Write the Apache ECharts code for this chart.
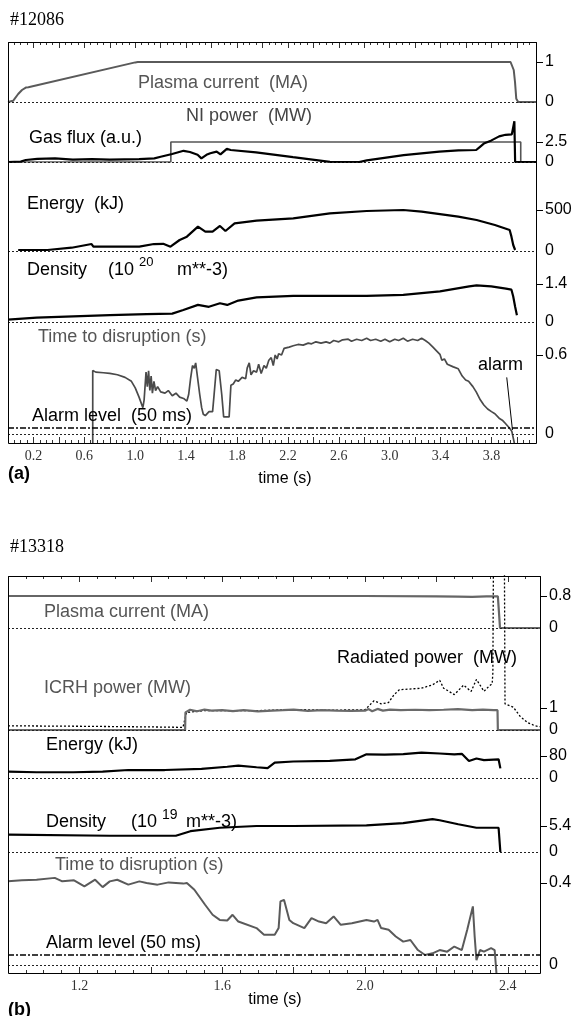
<!DOCTYPE html>
<html lang="en">
<head>
<meta charset="UTF-8">
<title>Disruption prediction</title>
<style>
  html, body { margin: 0; padding: 0; background: #fff; }
  #main { width: 572px; height: 1016px; }
</style>
</head>
<body>
<div id="main"></div>
<script src="https://cdn.jsdelivr.net/npm/echarts@6.0.0/dist/echarts.min.js"></script>
<script>
// ---------- shot #12086 (a) : [time s, value] ----------
var aPlasma = [[0,0],[0.04,0.03],[0.08,0.2],[0.11,0.3],[0.14,0.36],[0.16,0.37],[1.0,0.99],[1.02,1.0],
  [3.95,1.0],[3.965,0.97],[3.975,0.8],[3.985,0.5],[3.995,0.08],[4.01,0],[4.15,0]];
var aNI = [[0,0],[1.28,0],[1.28,2.5],[4.03,2.5],[4.03,0],[4.15,0]];
var aGas = [[0,0],[0.1,0.05],[0.14,0.25],[0.23,0.4],[0.37,0.45],[0.51,0.3],[0.66,0.35],[0.8,0.3],[1.03,0.35],
  [1.15,0.45],[1.2,0.65],[1.29,1.0],[1.38,1.4],[1.43,1.25],[1.49,0.9],[1.52,0.45],[1.56,0.9],[1.59,1.1],
  [1.64,1.3],[1.67,0.95],[1.72,1.65],[1.75,1.5],[1.95,1.2],[2.24,0.6],[2.53,0.02],[2.76,0],[2.82,0.2],
  [3.11,0.85],[3.39,1.3],[3.54,1.45],[3.68,1.5],[3.71,1.9],[3.74,2.3],[3.8,2.7],[3.86,3.2],[3.91,3.4],
  [3.96,3.45],[3.97,3.7],[3.98,5.1],[3.986,0],[4.15,0]];
var aEnergy = [[0.08,12],[0.31,12],[0.5,40],[0.657,85],[0.671,53],[1.032,53],[1.147,85],[1.22,88],[1.277,53],
  [1.349,134],[1.406,175],[1.493,297],[1.551,236],[1.608,236],[1.666,305],[1.709,244],[1.781,337],[1.954,370],
  [2.242,398],[2.53,459],[2.819,488],[3.107,500],[3.251,480],[3.539,419],[3.683,378],[3.827,317],[3.943,256],
  [3.957,175],[3.971,73],[3.986,12]];
var aDensity = [[0,0.09],[0.225,0.16],[0.513,0.21],[0.801,0.25],[1.089,0.29],[1.291,0.31],[1.378,0.44],
  [1.493,0.63],[1.579,0.56],[1.666,0.69],[1.723,0.63],[1.81,0.79],[1.954,0.91],[2.242,0.96],[2.819,0.96],
  [3.107,1.0],[3.395,1.13],[3.625,1.31],[3.683,1.35],[3.798,1.31],[3.914,1.23],[3.957,1.19],[3.971,0.94],
  [3.986,0.56],[4.0,0.25]];
var aTtd = [[0.666,-0.07],[0.666,0.483],[0.69,0.47],[0.75,0.465],[0.8,0.46],[0.86,0.45],[0.92,0.43],[0.97,0.4],
  [1.0,0.35],[1.03,0.28],[1.06,0.2],[1.07,0.26],[1.085,0.47],[1.095,0.36],[1.105,0.48],[1.115,0.33],
  [1.125,0.44],[1.135,0.31],[1.147,0.4],[1.16,0.33],[1.176,0.36],[1.2,0.32],[1.234,0.31],[1.26,0.33],
  [1.291,0.29],[1.32,0.31],[1.349,0.28],[1.38,0.27],[1.406,0.25],[1.42,0.3],[1.435,0.42],[1.45,0.52],
  [1.464,0.5],[1.475,0.54],[1.49,0.55],[1.507,0.3],[1.522,0.2],[1.535,0.15],[1.551,0.14],[1.58,0.17],
  [1.608,0.17],[1.62,0.3],[1.637,0.49],[1.66,0.48],[1.68,0.3],[1.695,0.13],[1.72,0.13],[1.738,0.13],
  [1.752,0.37],[1.77,0.38],[1.79,0.41],[1.81,0.4],[1.84,0.43],[1.868,0.42],[1.88,0.5],[1.896,0.54],
  [1.91,0.45],[1.93,0.48],[1.954,0.47],[1.97,0.53],[1.99,0.46],[2.012,0.52],[2.03,0.5],[2.05,0.56],
  [2.069,0.58],[2.085,0.52],[2.1,0.6],[2.115,0.57],[2.127,0.61],[2.15,0.6],[2.17,0.65],[2.185,0.64],
  [2.21,0.66],[2.242,0.67],[2.28,0.68],[2.32,0.675],[2.36,0.69],[2.386,0.685],[2.42,0.7],[2.46,0.69],
  [2.5,0.7],[2.53,0.69],[2.56,0.71],[2.6,0.7],[2.63,0.715],[2.674,0.72],[2.7,0.705],[2.74,0.72],[2.78,0.71],
  [2.819,0.727],[2.85,0.71],[2.89,0.72],[2.93,0.705],[2.963,0.72],[3.0,0.7],[3.04,0.72],[3.07,0.71],
  [3.107,0.727],[3.14,0.705],[3.18,0.72],[3.22,0.71],[3.251,0.727],[3.28,0.71],[3.308,0.69],[3.34,0.66],
  [3.37,0.63],[3.395,0.605],[3.41,0.56],[3.43,0.57],[3.453,0.53],[3.5,0.51],[3.539,0.495],[3.57,0.44],
  [3.597,0.41],[3.62,0.4],[3.654,0.36],[3.68,0.32],[3.712,0.26],[3.74,0.22],[3.77,0.19],[3.8,0.17],
  [3.827,0.154],[3.86,0.12],[3.885,0.105],[3.91,0.08],[3.943,0.044],[3.96,0.02],[3.971,0.007],[3.98,-0.07]];
var aAlarmPointer = [[3.92,0.43],[3.965,0.03]];
var aXLabels = [0.2, 0.6, 1.0, 1.4, 1.8, 2.2, 2.6, 3.0, 3.4, 3.8];
var aYTicks = [1, 2.5, 500, 1.4, 0.6];

// ---------- shot #13318 (b) ----------
var bPlasma = [[1.0,0.8],[1.6,0.8],[2.0,0.8],[2.2,0.79],[2.26,0.785],[2.3,0.78],[2.34,0.79],[2.372,0.79],
  [2.375,0.4],[2.378,0],[2.49,0]];
var bICRH = [[1.0,0],[1.496,0],[1.497,0.8],[1.51,0.92],[1.53,0.85],[1.55,0.93],[1.57,0.88],[1.6,0.9],
  [1.63,0.86],[1.66,0.9],[1.7,0.85],[1.74,0.88],[1.77,0.9],[1.8,0.93],[1.84,0.87],[1.88,0.9],[1.92,0.88],
  [1.96,0.87],[2.0,0.88],[2.01,0.95],[2.02,0.85],[2.035,0.96],[2.05,0.88],[2.07,0.93],[2.1,0.9],[2.14,0.92],
  [2.18,0.9],[2.22,0.92],[2.26,0.95],[2.3,0.9],[2.33,0.93],[2.36,0.9],[2.371,0.9],[2.372,0],[2.49,0]];
var bRadiated = [[1.0,0.19],[1.2,0.17],[1.4,0.14],[1.49,0.12],[1.5,0.8],[1.55,0.88],[1.7,0.88],[1.8,0.93],
  [1.9,0.9],[2.0,0.92],[2.025,1.33],[2.045,1.19],[2.066,1.25],[2.081,1.6],[2.096,1.83],[2.158,1.9],
  [2.189,2.05],[2.209,2.26],[2.22,1.9],[2.25,1.61],[2.276,2.04],[2.297,1.75],[2.312,2.3],[2.333,1.76],
  [2.348,2.0],[2.356,2.1],[2.358,2.6],[2.36,9],[2.39,9],[2.392,1.19],[2.415,1.04],[2.435,0.61],
  [2.456,0.33],[2.476,0.19],[2.49,0.15]];
var bEnergy = [[1.0,23],[1.08,21],[1.183,21],[1.265,23],[1.337,29],[1.439,29],[1.542,33],[1.614,41],
  [1.645,45],[1.696,39],[1.727,36],[1.747,56],[1.799,60],[1.901,62],[1.973,68],[2.004,86],[2.055,85],
  [2.107,87],[2.158,92],[2.209,89],[2.25,86],[2.271,88],[2.291,62],[2.312,71],[2.333,65],[2.374,68],[2.379,35]];
var bDensity = [[1.0,3.6],[1.285,3.38],[1.47,3.38],[1.511,4.32],[1.593,5.04],[1.696,5.4],[1.799,5.4],
  [2.004,5.54],[2.107,5.98],[2.189,6.84],[2.209,6.6],[2.261,5.76],[2.312,5.04],[2.374,5.04],[2.379,0]];
var bTtd = [[1.0,0.408],[1.039,0.413],[1.08,0.416],[1.131,0.425],[1.152,0.408],[1.185,0.413],[1.214,0.384],
  [1.244,0.416],[1.265,0.38],[1.285,0.408],[1.306,0.416],[1.337,0.392],[1.368,0.408],[1.388,0.4],
  [1.419,0.392],[1.45,0.403],[1.491,0.397],[1.501,0.4],[1.522,0.367],[1.552,0.294],[1.573,0.245],
  [1.593,0.22],[1.614,0.217],[1.629,0.245],[1.645,0.212],[1.696,0.18],[1.717,0.147],[1.747,0.147],
  [1.758,0.18],[1.763,0.31],[1.773,0.318],[1.788,0.22],[1.799,0.204],[1.83,0.18],[1.85,0.229],
  [1.871,0.212],[1.891,0.204],[1.912,0.237],[1.932,0.196],[1.963,0.204],[2.004,0.22],[2.025,0.212],
  [2.035,0.22],[2.045,0.18],[2.066,0.172],[2.086,0.139],[2.107,0.114],[2.127,0.122],[2.148,0.073],
  [2.168,0.049],[2.189,0.057],[2.209,0.073],[2.23,0.065],[2.25,0.09],[2.271,0.073],[2.286,0.171],
  [2.302,0.286],[2.307,0.139],[2.312,0.024],[2.322,0.073],[2.333,0.065],[2.353,0.082],[2.363,0.073],
  [2.368,-0.04]];
var bXLabels = [1.2, 1.6, 2.0, 2.4];
var bYTicks = [0.8, 1, 80, 5.4, 0.4];

var ALARM = 0.05;

var SANS = '"Liberation Sans", Arial, sans-serif';
var SERIF = '"Liberation Serif", "Times New Roman", serif';
var GRAY = '#5a5a5a';
var W = 572;

var grids = [], xAxes = [], yAxes = [], series = [], graphics = [];

function zeroLine() {
    return {yAxis: 0, lineStyle: {color: '#222', width: 1, type: [2, 2]}};
}

function addPanel(p) {
    p.bands.forEach(function (b, i) {
        var k = (b.zeroY - b.tickY) / b.tick;   // px per unit
        var gi = grids.length;
        var isTop = i === 0, isBottom = i === p.bands.length - 1;
        grids.push({left: p.left, right: W - p.right, top: b.top, height: b.bottom - b.top,
            containLabel: false, outerBoundsMode: 'none'});
        xAxes.push({
            gridIndex: gi, type: 'value', min: p.xMin, max: p.xMax, interval: 0.2,
            show: isTop || isBottom, position: isTop ? 'top' : 'bottom',
            axisLine: {show: false, onZero: false},
            axisTick: {show: true, inside: true, length: 6, lineStyle: {color: '#333'}},
            minorTick: {show: true, splitNumber: 4, length: 3, lineStyle: {color: '#333'}},
            splitLine: {show: false},
            axisLabel: {
                show: isBottom, color: '#333', fontFamily: SERIF, fontSize: 14, margin: 6,
                formatter: function (v) {
                    for (var j = 0; j < p.xLabels.length; j++) {
                        if (Math.abs(v - p.xLabels[j]) < 1e-6) return p.xLabels[j].toFixed(1);
                    }
                    return '';
                }
            }
        });
        yAxes.push({
            gridIndex: gi, type: 'value', position: 'right',
            min: -(b.bottom - b.zeroY) / k, max: (b.zeroY - b.top) / k,
            axisLine: {show: false, onZero: false}, splitLine: {show: false},
            axisTick: {show: true, inside: false, length: 7, customValues: [b.tick], lineStyle: {color: '#000'}},
            axisLabel: {customValues: [0, b.tick], color: '#000', fontFamily: SANS, fontSize: 16, margin: 9,
                formatter: function (v) { return v === 0 ? '0' : String(b.tick); }}
        });
        b.series.forEach(function (s, j) {
            var marks = j === 0 ? [zeroLine()].concat(b.marks || []) : [];
            series.push({
                type: 'line', xAxisIndex: gi, yAxisIndex: gi, data: s.data,
                showSymbol: false, symbol: 'none', silent: true, z: s.z || 2,
                lineStyle: {color: s.color, width: s.width, type: s.type || 'solid'},
                markLine: marks.length ? {silent: true, symbol: ['none', 'none'], animation: false,
                    label: {show: false}, lineStyle: {color: '#222', width: 1, type: [2, 2]}, data: marks} : undefined
            });
        });
    });
    var top = p.bands[0].top, bottom = p.bands[p.bands.length - 1].bottom;
    graphics.push({type: 'rect', silent: true, z: 100,
        shape: {x: p.left + 0.5, y: top + 0.5, width: p.right - p.left, height: bottom - top},
        style: {fill: 'none', stroke: '#000', lineWidth: 1}});
    p.texts.forEach(function (t) {
        graphics.push({type: 'text', silent: true, z: 101, x: t.x, y: t.y,
            style: {text: t.s, fill: t.c || '#000', textAlign: t.align || 'left', textVerticalAlign: 'middle',
                font: (t.bold ? 'bold ' : '') + (t.size || 18) + 'px ' + (t.f || SANS)}});
    });
}

addPanel({
    left: 8, right: 536, xMin: 0, xMax: 4.15, xLabels: aXLabels,
    bands: [
        {top: 42, bottom: 102, zeroY: 102, tickY: 62, tick: aYTicks[0],
            series: [{data: aPlasma, color: GRAY, width: 2}]},
        {top: 102, bottom: 162, zeroY: 162, tickY: 142, tick: aYTicks[1],
            series: [{data: aNI, color: '#555', width: 1.6}, {data: aGas, color: '#000', width: 2.2, z: 3}]},
        {top: 162, bottom: 251, zeroY: 251, tickY: 210, tick: aYTicks[2],
            series: [{data: aEnergy, color: '#000', width: 2.2}]},
        {top: 251, bottom: 322, zeroY: 322, tickY: 284, tick: aYTicks[3],
            series: [{data: aDensity, color: '#000', width: 2.2}]},
        {top: 322, bottom: 443, zeroY: 434, tickY: 355, tick: aYTicks[4],
            series: [{data: aTtd, color: '#4a4a4a', width: 1.7}],
            marks: [{yAxis: ALARM, lineStyle: {color: '#000', width: 1.6, type: [6, 2, 2, 2]}},
                [{coord: aAlarmPointer[0], lineStyle: {color: '#000', width: 1, type: 'solid'}},
                 {coord: aAlarmPointer[1]}]]}
    ],
    texts: [
        {s: '#12086', x: 10, y: 20, f: SERIF, size: 18},
        {s: 'Plasma current  (MA)', x: 138, y: 83, c: '#555'},
        {s: 'NI power  (MW)', x: 186, y: 116, c: '#444'},
        {s: 'Gas flux (a.u.)', x: 29, y: 138},
        {s: 'Energy  (kJ)', x: 27, y: 204},
        {s: 'Density', x: 27, y: 270},
        {s: '(10', x: 108, y: 270},
        {s: '20', x: 139, y: 262, size: 13},
        {s: 'm**-3)', x: 177, y: 270},
        {s: 'Time to disruption (s)', x: 38, y: 337, c: '#555'},
        {s: 'Alarm level  (50 ms)', x: 32, y: 416},
        {s: 'alarm', x: 478, y: 365},
        {s: '(a)', x: 8, y: 474, bold: true, size: 18},
        {s: 'time (s)', x: 285, y: 479, align: 'center', size: 16}
    ]
});

addPanel({
    left: 8, right: 540, xMin: 1.0, xMax: 2.49, xLabels: bXLabels,
    bands: [
        {top: 576, bottom: 628, zeroY: 628, tickY: 596, tick: bYTicks[0],
            series: [{data: bPlasma, color: '#666', width: 2.2}]},
        {top: 576, bottom: 730, zeroY: 730, tickY: 708, tick: bYTicks[1],
            series: [{data: bICRH, color: '#6a6a6a', width: 2.2, z: 3},
                     {data: bRadiated, color: '#000', width: 1.3, type: [2, 2], z: 2}]},
        {top: 730, bottom: 778, zeroY: 778, tickY: 756, tick: bYTicks[2],
            series: [{data: bEnergy, color: '#000', width: 2.2}]},
        {top: 778, bottom: 852, zeroY: 852, tickY: 826, tick: bYTicks[3],
            series: [{data: bDensity, color: '#000', width: 2.2}]},
        {top: 852, bottom: 973, zeroY: 965, tickY: 883, tick: bYTicks[4],
            series: [{data: bTtd, color: '#5a5a5a', width: 2}],
            marks: [{yAxis: ALARM, lineStyle: {color: '#000', width: 1.6, type: [6, 2, 2, 2]}}]}
    ],
    texts: [
        {s: '#13318', x: 10, y: 547, f: SERIF, size: 18},
        {s: 'Plasma current (MA)', x: 44, y: 612, c: '#555'},
        {s: 'Radiated power  (MW)', x: 337, y: 658},
        {s: 'ICRH power (MW)', x: 44, y: 688, c: '#555'},
        {s: 'Energy (kJ)', x: 46, y: 745},
        {s: 'Density', x: 46, y: 822},
        {s: '(10', x: 131, y: 822},
        {s: '19', x: 162, y: 815, size: 14},
        {s: 'm**-3)', x: 186, y: 822},
        {s: 'Time to disruption (s)', x: 55, y: 865, c: '#555'},
        {s: 'Alarm level (50 ms)', x: 46, y: 943},
        {s: '(b)', x: 8, y: 1010, bold: true, size: 18},
        {s: 'time (s)', x: 275, y: 1000, align: 'center', size: 16}
    ]
});

var chart = echarts.init(document.getElementById('main'));
chart.setOption({
    animation: false,
    backgroundColor: '#fff',
    textStyle: {fontFamily: SANS},
    grid: grids,
    xAxis: xAxes,
    yAxis: yAxes,
    series: series,
    graphic: {elements: graphics}
});
</script>
</body>
</html>
